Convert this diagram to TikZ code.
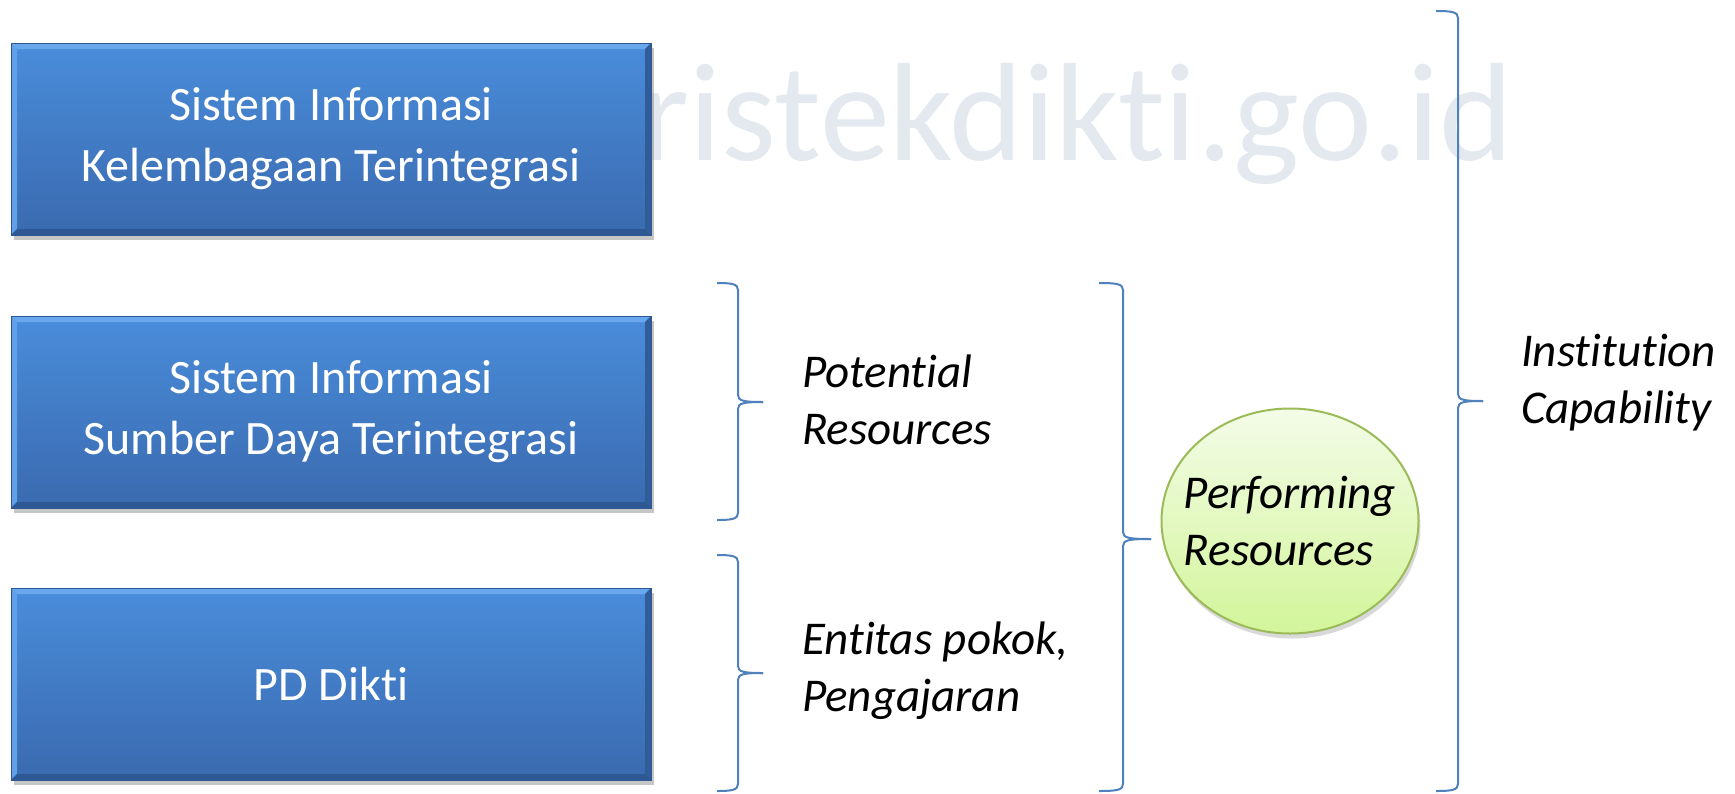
\documentclass[tikz,border=0pt]{standalone}
\usepackage{fontspec}
\setmainfont{Carlito}[Ligatures={NoCommon}]
\usetikzlibrary{shapes.geometric,shadows}
\definecolor{boxtop}{HTML}{4A8DDB}
\definecolor{boxbot}{HTML}{3A6AAF}
\definecolor{boxlight}{HTML}{6AA8EE}
\definecolor{boxdark}{HTML}{2D5894}
\definecolor{bracecol}{HTML}{4F81BD}
\definecolor{wmfill}{HTML}{E4E9F0}
\definecolor{circtop}{HTML}{F3FCE8}
\definecolor{circbot}{HTML}{D3F59A}
\definecolor{circline}{HTML}{9BBB59}

% keeps t and i apart
\newcommand{\nolig}{\kern0pt}
% left end x, line x, tip x, top y, tip y, bottom y
\newcommand{\resbrace}[6]{%
  \draw[bracepen] (#1,#4) .. controls (#2-6,#4) and (#2,#4+1) .. (#2,#4+7)
    -- (#2,#5-7) .. controls (#2,#5-1) and (#2+6,#5) .. (#3,#5);
  \draw[bracepen] (#3,#5) .. controls (#2+6,#5) and (#2,#5+1) .. (#2,#5+7)
    -- (#2,#6-7) .. controls (#2,#6-1) and (#2-6,#6) .. (#1,#6);
}

\begin{document}
\begin{tikzpicture}[x=0.5pt,y=-0.5pt,
    bracepen/.style={draw=bracecol, line width=1pt},
    sibox/.style={rectangle, minimum width=320pt, minimum height=96pt,
      top color=boxtop, bottom color=boxbot, draw=boxdark, line width=.4pt,
      text=white, align=center, font=\fontsize{24}{30.5}\selectfont,
      drop shadow={opacity=.45, shadow xshift=1.5pt, shadow yshift=-2.5pt},
      path picture={
        \fill[boxlight] (path picture bounding box.north west) -- (path picture bounding box.north east)
          -- ([xshift=-3pt,yshift=-3pt]path picture bounding box.north east)
          -- ([xshift=3pt,yshift=-3pt]path picture bounding box.north west) -- cycle;
        \fill[boxlight!70!boxtop] (path picture bounding box.north west) -- (path picture bounding box.south west)
          -- ([xshift=3pt,yshift=3pt]path picture bounding box.south west)
          -- ([xshift=3pt,yshift=-3pt]path picture bounding box.north west) -- cycle;
        \fill[boxdark] (path picture bounding box.south west) -- (path picture bounding box.south east)
          -- ([xshift=-3pt,yshift=3pt]path picture bounding box.south east)
          -- ([xshift=3pt,yshift=3pt]path picture bounding box.south west) -- cycle;
        \fill[boxdark!80!boxbot] (path picture bounding box.north east) -- (path picture bounding box.south east)
          -- ([xshift=-3pt,yshift=3pt]path picture bounding box.south east)
          -- ([xshift=-3pt,yshift=-3pt]path picture bounding box.north east) -- cycle;
      }},
    reslabel/.style={anchor=west, align=left, font=\fontsize{23.5}{28.5}\selectfont\itshape},
    perfnode/.style={ellipse, inner sep=0pt, minimum width=128.5pt, minimum height=112.5pt,
      top color=circtop, bottom color=circbot, draw=circline, line width=1pt,
      drop shadow={opacity=.3, shadow xshift=1pt, shadow yshift=-2.5pt}}]
  \useasboundingbox (0,0) rectangle (1735,793);
  \node[anchor=base west, text=wmfill, font=\fontsize{70}{70}\selectfont, inner sep=0pt] (wm) at (640,160) {ristekdikt\nolig i.go.id};

  \node[sibox] (ski) at (331,139) {Sistem Informasi\\Kelembagaan Terintegrasi};
  \node[sibox] (ssd) at (331,412) {Sistem Informasi\\Sumber Daya Terintegrasi};
  \node[sibox] (pdd) at (331,684) {PD Dikti};

  \resbrace{717}{738}{763}{283}{402}{520}
  \resbrace{717}{738}{763}{555}{673}{791}
  \resbrace{1099}{1123}{1151}{283}{539}{791}
  \resbrace{1436}{1458}{1483}{11}{401}{791}

  \node[reslabel] (pot) at (795,400) {Potent\nolig ial\\Resources};
  \node[reslabel] (ent) at (795,671) {Ent\nolig itas pokok,\\Pengajaran};
  \node[perfnode] (perf) at (1290,521) {};
  \node[reslabel, anchor=center] (perftxt) at (perf.center) {Performing\\Resources};
  \node[reslabel] (inst) at (1514,383) {Inst\nolig itut\nolig ion\\Capability};
\end{tikzpicture}
\end{document}
